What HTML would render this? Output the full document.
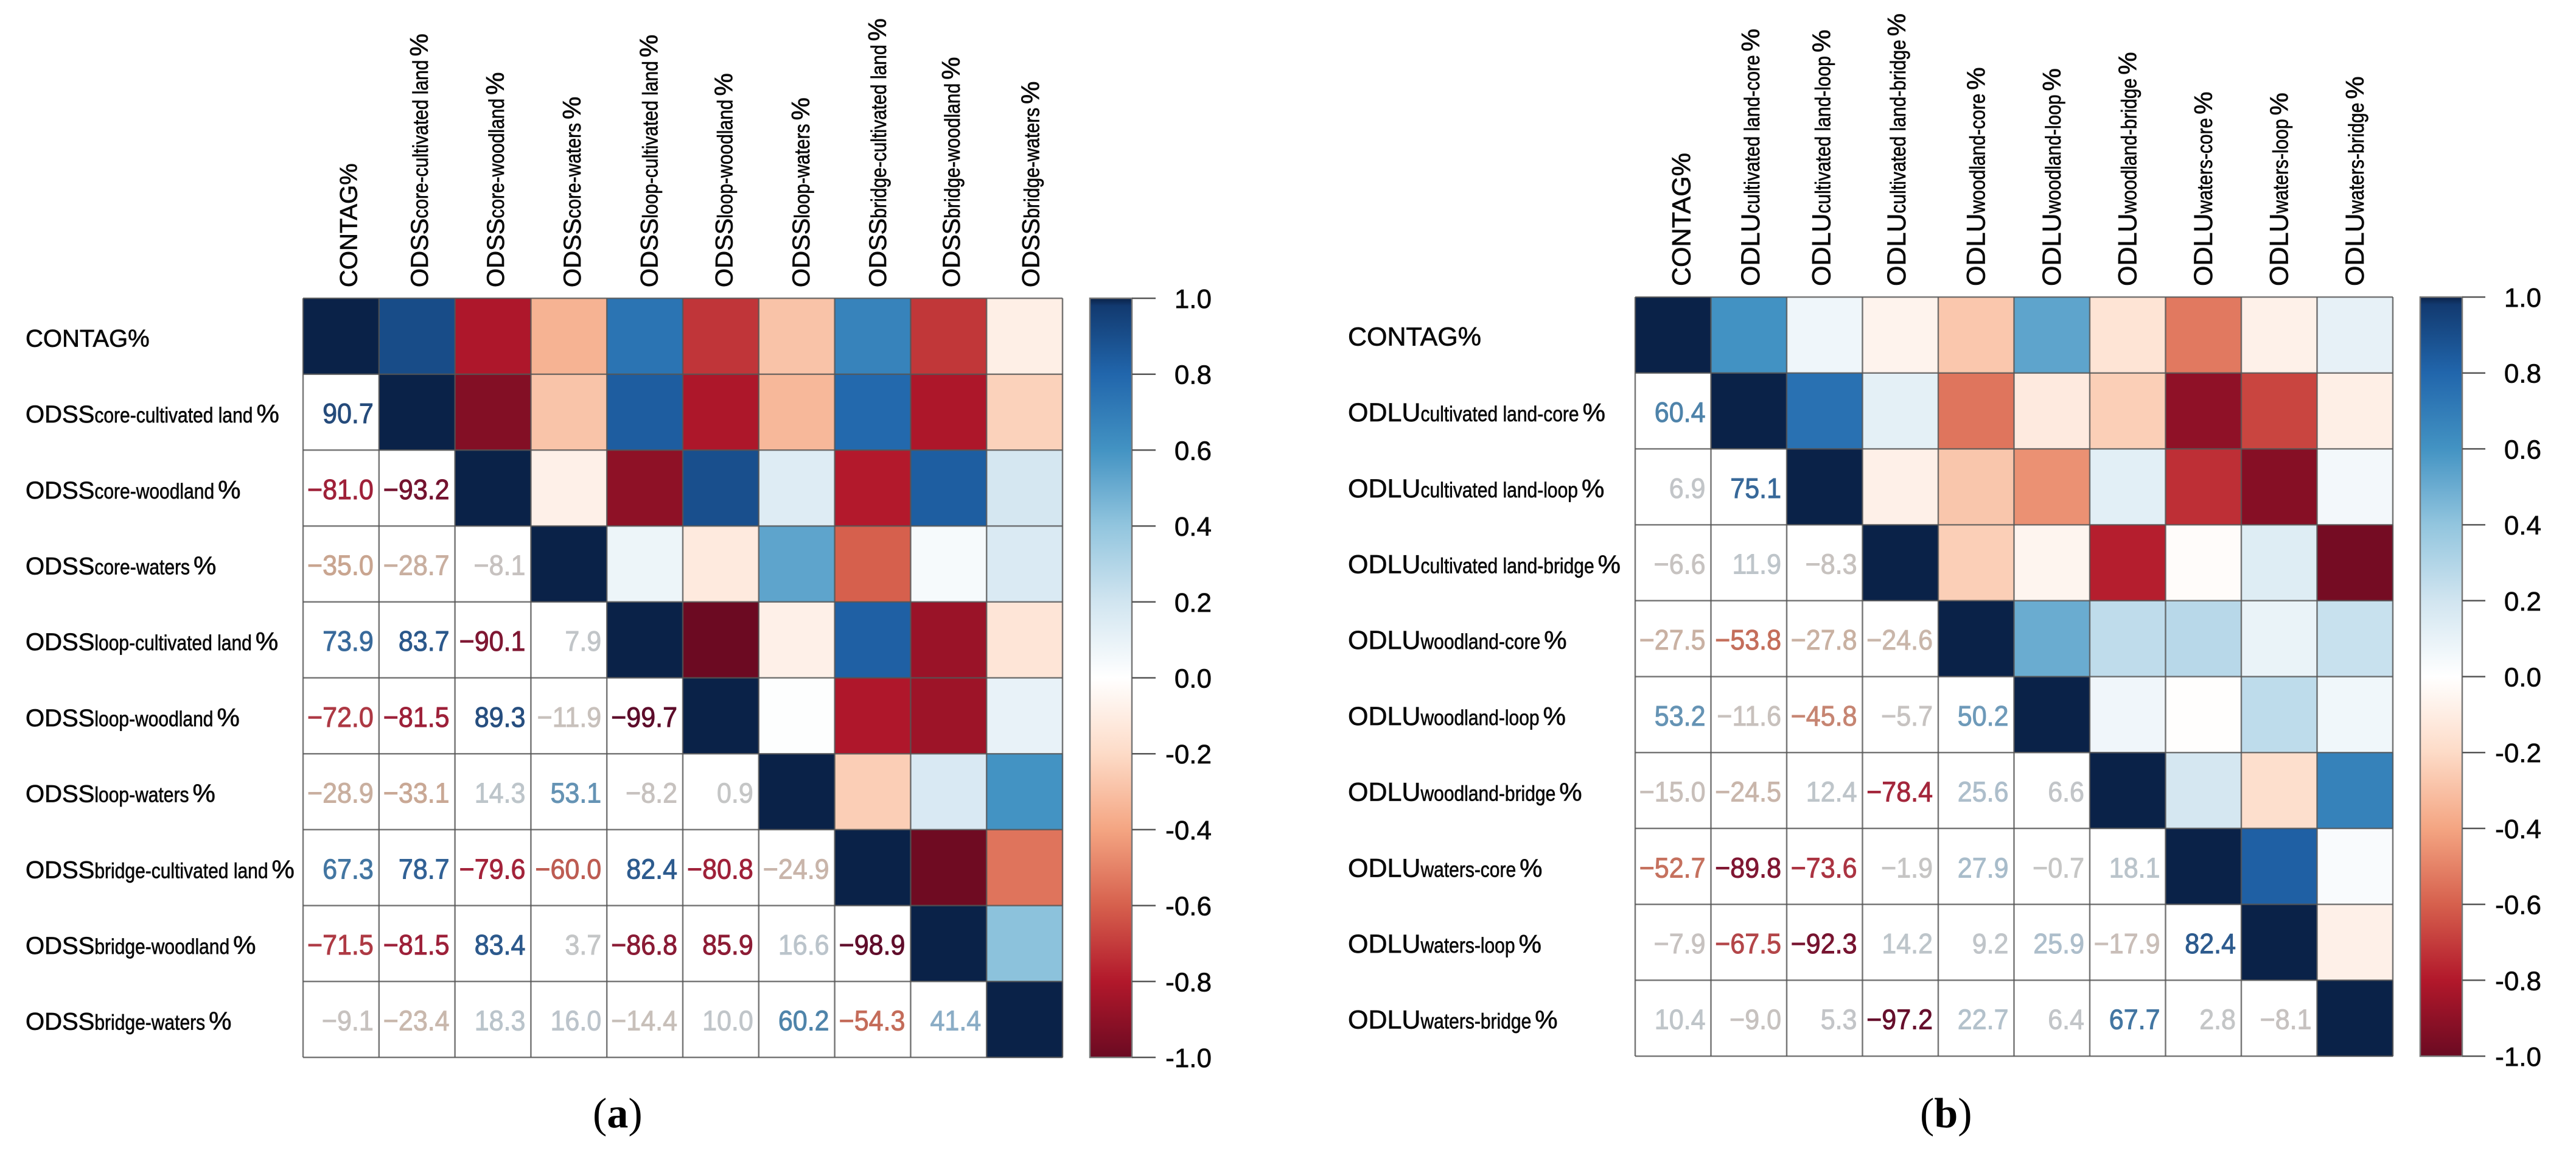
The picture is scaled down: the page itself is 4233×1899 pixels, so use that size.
<!DOCTYPE html>
<html lang="en">
<head>
<meta charset="utf-8">
<title>Correlation heatmaps of CONTAG, ODSS and ODLU</title>
<style>
  html, body { margin: 0; padding: 0; background: #fff; }
  svg { display: block; font-family: "Liberation Sans", "DejaVu Sans", sans-serif; }
</style>
</head>
<body>
<svg id="figure" xmlns="http://www.w3.org/2000/svg" width="4233" height="1899" viewBox="0 0 4233 1899">
  <rect x="0" y="0" width="4233" height="1899" fill="#ffffff"></rect>
  <defs>
    <linearGradient id="cb-gradient" x1="0" y1="1" x2="0" y2="0"></linearGradient>
  </defs>
  <text x="974" y="1852" font-family="'Liberation Serif', serif" font-size="70" fill="#000">(<tspan font-weight="bold">a</tspan>)</text>
  <text x="3155" y="1852" font-family="'Liberation Serif', serif" font-size="70" fill="#000">(<tspan font-weight="bold">b</tspan>)</text>
</svg>
<script>
// ---- chart data ----
const panelASubscripts = ["", "core-cultivated land", "core-woodland", "core-waters", "loop-cultivated land", "loop-woodland", "loop-waters", "bridge-cultivated land", "bridge-woodland", "bridge-waters"];
const panelBSubscripts = ["", "cultivated land-core", "cultivated land-loop", "cultivated land-bridge", "woodland-core", "woodland-loop", "woodland-bridge", "waters-core", "waters-loop", "waters-bridge"];

// Lower triangle of each correlation matrix, in percent (row by row).
const panelAValues = [
  [],
  [90.7],
  [-81.0, -93.2],
  [-35.0, -28.7, -8.1],
  [73.9, 83.7, -90.1, 7.9],
  [-72.0, -81.5, 89.3, -11.9, -99.7],
  [-28.9, -33.1, 14.3, 53.1, -8.2, 0.9],
  [67.3, 78.7, -79.6, -60.0, 82.4, -80.8, -24.9],
  [-71.5, -81.5, 83.4, 3.7, -86.8, -85.9, 16.6, -98.9],
  [-9.1, -23.4, 18.3, 16.0, -14.4, 10.0, 60.2, -54.3, 41.4]
];
const panelBValues = [
  [],
  [60.4],
  [6.9, 75.1],
  [-6.6, 11.9, -8.3],
  [-27.5, -53.8, -27.8, -24.6],
  [53.2, -11.6, -45.8, -5.7, 50.2],
  [-15.0, -24.5, 12.4, -78.4, 25.6, 6.6],
  [-52.7, -89.8, -73.6, -1.9, 27.9, -0.7, 18.1],
  [-7.9, -67.5, -92.3, 14.2, 9.2, 25.9, -17.9, 82.4],
  [10.4, -9.0, 5.3, -97.2, 22.7, 6.4, 67.7, 2.8, -8.1]
];
// The source figure prints this cell without its minus sign: [row, column].
const panelAUnsignedCells = [[8, 5]];
const panelBUnsignedCells = [];

const colorbarTicks = [1.0, 0.8, 0.6, 0.4, 0.2, 0.0, -0.2, -0.4, -0.6, -0.8, -1.0];

// ---- colour scales ----
const cmapDomain = [-1, -0.8, -0.6, -0.4, -0.2, 0, 0.2, 0.4, 0.6, 0.8, 0.98, 1];
const cmapColors = ["#6b0a22", "#b2182b", "#d6604d", "#f4a582", "#fddbc7", "#ffffff", "#d1e5f0", "#92c5de", "#4393c3", "#2166ac", "#123a70", "#0a2248"];
const textDomain = [-1, -0.8, -0.55, -0.35, -0.2, 0, 0.2, 0.4, 0.6, 0.8, 1];
const textColors = ["#5c0c2a", "#a2223a", "#c46a58", "#c9a590", "#c9bdb6", "#c6c6c6", "#b9c4cc", "#8fb0c8", "#4f84aa", "#2f5f94", "#1c3a66"];

function hexToRgb(h) {
  return [1, 3, 5].map(function (i) { return parseInt(h.substr(i, 2), 16); });
}
function ramp(domain, colors, v) {
  const c = Math.max(domain[0], Math.min(domain[domain.length - 1], v));
  let i = 0;
  while (i < domain.length - 2 && c > domain[i + 1]) i++;
  const t = (c - domain[i]) / (domain[i + 1] - domain[i]);
  const a = hexToRgb(colors[i]);
  const b = hexToRgb(colors[i + 1]);
  return "rgb(" + a.map(function (x, k) { return Math.round(x + (b[k] - x) * t); }).join(",") + ")";
}
function cellColor(v) { return ramp(cmapDomain, cmapColors, v); }
function valueColor(v) { return ramp(textDomain, textColors, v); }

const NS = "http://www.w3.org/2000/svg";
const figure = document.getElementById("figure");

function make(tag, parent, attrs) {
  const el = document.createElementNS(NS, tag);
  Object.keys(attrs).forEach(function (k) { el.setAttribute(k, attrs[k]); });
  parent.appendChild(el);
  return el;
}

// Squeeze a text run horizontally so it can be taller without being wider.
function condense(el, factor) {
  el.setAttribute("textLength", (el.getComputedTextLength() * factor).toFixed(1));
  el.setAttribute("lengthAdjust", "spacingAndGlyphs");
}

// Gradient of the shared colour bar
const gradient = document.getElementById("cb-gradient");
cmapDomain.forEach(function (d, i) {
  const stop = make("stop", gradient, { offset: (d + 1) / 2, "stop-color": cmapColors[i] });
  
  
});

function drawLabel(group, prefix, sub, prefixSize, x, y, vertical) {
  const attrs = { x: x, y: y, fill: "#0a0a0a", stroke: "#0a0a0a", "stroke-width": 0.7, "font-size": prefixSize };
  if (vertical) attrs.transform = "rotate(-90 " + x + " " + y + ")";
  const label = make("text", group, attrs);
  
  
  if (sub === "") {
    label.textContent = "CONTAG%";
    return label;
  }
  const main = make("tspan", label, {});
  
  
  main.textContent = prefix;
  const small = make("tspan", label, { "font-size": 35 });
  
  
  small.textContent = sub;
  condense(small, 30 / 35);
  const pct = make("tspan", label, { "font-size": 42, dx: 6 });
  
  
  pct.textContent = "%";
  return label;
}

function drawPanel(p) {
  const n = p.subs.length;
  const xScale = function (i) { return p.left + i * (p.right - p.left) / n; };
  const yScale = function (i) { return p.top + i * (p.bottom - p.top) / n; };
  const cbScale = function (t) { return p.top + (1 - t) / 2 * (p.bottom - p.top); };

  const group = make("g", figure, {});
  
  

  const cw = (p.right - p.left) / n;
  const ch = (p.bottom - p.top) / n;

  // Cells: upper triangle colour-filled, lower triangle printed, diagonal solid.
  for (let r = 0; r < n; r++) {
    for (let c = 0; c < n; c++) {
      const v = r === c ? 100 : (r > c ? p.values[r][c] : p.values[c][r]);
      const fill = r < c || r === c ? cellColor(v / 100) : "#ffffff";
      const cell = make("rect", group, { x: xScale(c), y: yScale(r), width: cw + 0.5, height: ch + 0.5, fill: fill });
      
      
    }
  }

  // Grid lines
  for (let i = 0; i <= n; i++) {
    const h = make("line", group, { x1: p.left, x2: p.right, y1: yScale(i), y2: yScale(i), stroke: "#555", "stroke-opacity": 0.8, "stroke-width": 2.5 });
    
    
    const w = make("line", group, { y1: p.top, y2: p.bottom, x1: xScale(i), x2: xScale(i), stroke: "#555", "stroke-opacity": 0.8, "stroke-width": 2.5 });
    
    
  }

  // Printed values in the lower triangle
  for (let r = 1; r < n; r++) {
    for (let c = 0; c < r; c++) {
      const v = p.values[r][c];
      const unsigned = p.unsigned.some(function (u) { return u[0] === r && u[1] === c; });
      const ink = valueColor(v / 100);
      const txt = make("text", group, {
        x: xScale(c + 1) - 9,
        y: yScale(r) + ch / 2 + 18,
        "text-anchor": "end",
        "font-size": 46,
        fill: ink,
        stroke: ink,
        "stroke-width": 1
      });
      
      
      txt.textContent = (v < 0 && !unsigned ? "\u2212" : "") + Math.abs(v).toFixed(1);
      condense(txt, 0.935);
    }
  }

  // Row and column labels
  for (let i = 0; i < n; i++) {
    drawLabel(group, p.prefix, p.subs[i], p.prefixSize, p.rowLabelX, yScale(i) + ch / 2 + 17, false);
    drawLabel(group, p.prefix, p.subs[i], p.prefixSize, xScale(i) + cw / 2 + p.colNudge[i], p.top - 18, true);
  }

  // Colour bar
  const bar = make("rect", group, { x: p.cbLeft, y: p.top, width: p.cbRight - p.cbLeft, height: p.bottom - p.top, fill: "url(#cb-gradient)", stroke: "#777", "stroke-width": 2.5 });
  
  
  colorbarTicks.forEach(function (t) {
    const tick = make("line", group, { x1: p.cbRight, x2: p.cbTickEnd, y1: cbScale(t), y2: cbScale(t), stroke: "#555", "stroke-width": 2.5 });
    
    
    const lab = make("text", group, { x: p.cbLabelEnd, y: cbScale(t) + 16, "text-anchor": "end", "font-size": 44, fill: "#0a0a0a", stroke: "#0a0a0a", "stroke-width": 0.7 });
    
    
    lab.textContent = t.toFixed(1);
  });
}

drawPanel({
  name: "panel-a-heatmap", subs: panelASubscripts, values: panelAValues, unsigned: panelAUnsignedCells,
  prefix: "ODSS", prefixSize: 40, left: 498, right: 1746, top: 490, bottom: 1737,
  rowLabelX: 42, colNudge: [26, 18, 18, 19, 21, 19, 21, 22, 18, 24],
  cbLeft: 1791, cbRight: 1860, cbTickEnd: 1899, cbLabelEnd: 1991
});
drawPanel({
  name: "panel-b-heatmap", subs: panelBSubscripts, values: panelBValues, unsigned: panelBUnsignedCells,
  prefix: "ODLU", prefixSize: 43, left: 2687, right: 3932, top: 488, bottom: 1735,
  rowLabelX: 2215, colNudge: [28, 17, 9, 8, 14, 14, 14, 14, 14, 14],
  cbLeft: 3977, cbRight: 4046, cbTickEnd: 4084, cbLabelEnd: 4176
});
</script>
</body>
</html>
